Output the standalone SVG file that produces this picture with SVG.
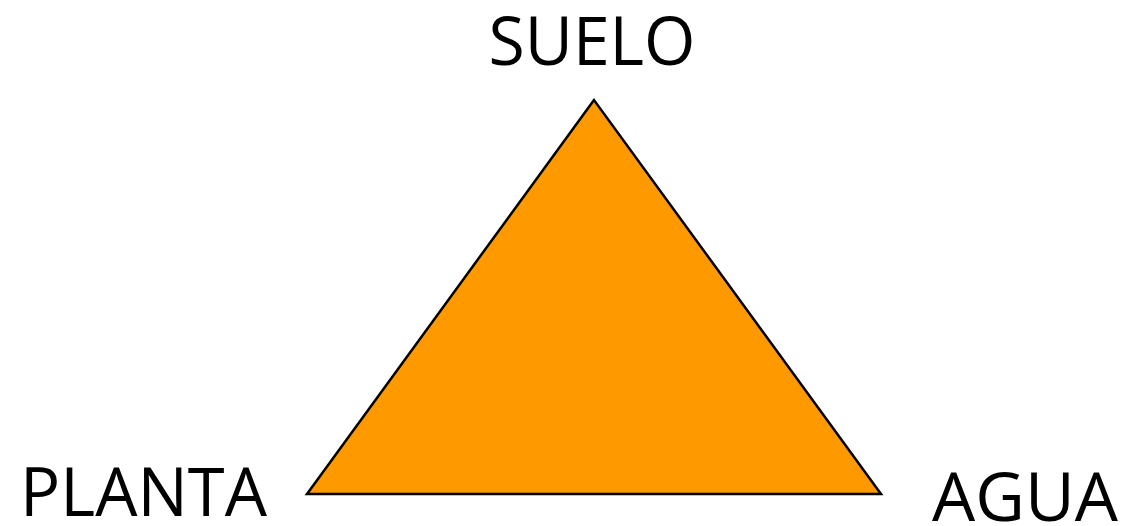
<svg xmlns="http://www.w3.org/2000/svg" width="1123" height="526" viewBox="0 0 1123 526">
<style>
.lbl{font-family:"Open Sans","Liberation Sans",sans-serif;font-size:68px;fill:#000}
</style>
<rect width="1123" height="526" fill="#fff"/>
<g id="triangle">
<polygon points="594,100 307,494 881,494" fill="#FF9900" stroke="#000" stroke-width="2.5" stroke-linejoin="miter"/>
</g>
<g id="suelo"><text class="lbl" x="592" y="65" text-anchor="middle" textLength="207" lengthAdjust="spacingAndGlyphs">SUELO</text></g>
<g id="planta"><text class="lbl" x="20" y="516" textLength="247" lengthAdjust="spacingAndGlyphs">PLANTA</text></g>
<g id="agua"><text class="lbl" x="932" y="521" textLength="186" lengthAdjust="spacingAndGlyphs">AGUA</text></g>
</svg>
